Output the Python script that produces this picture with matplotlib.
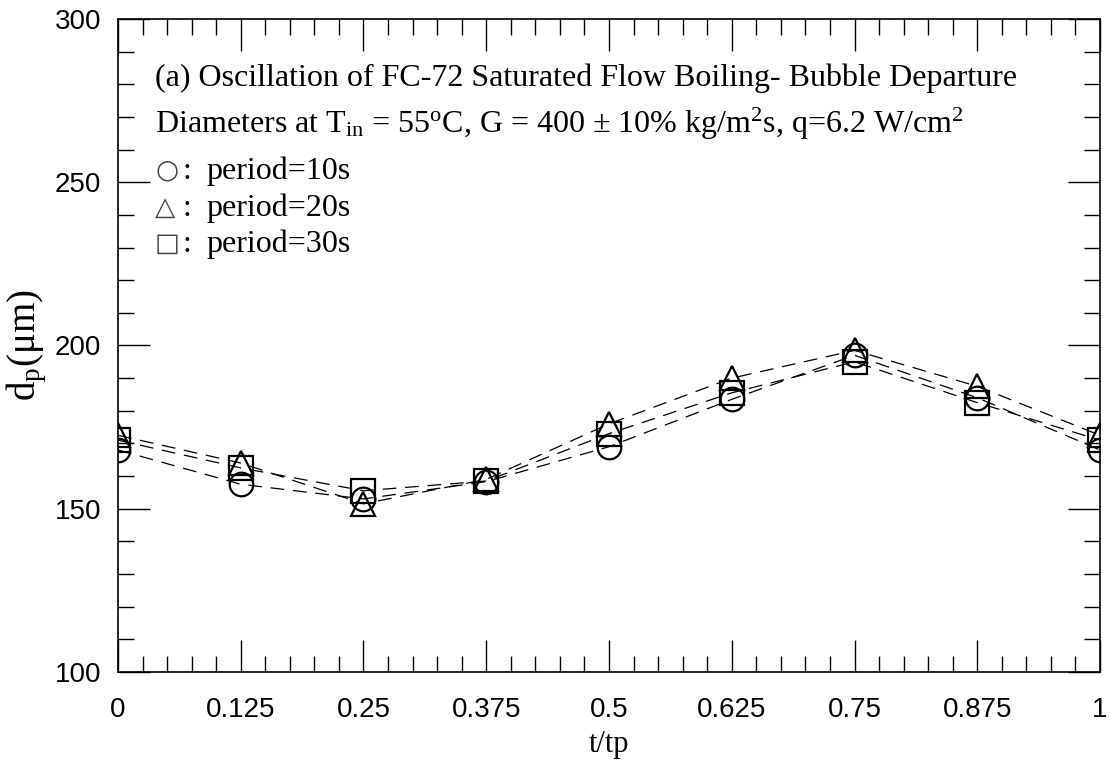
import matplotlib.pyplot as plt
from matplotlib.ticker import MultipleLocator, FixedLocator

plt.rcParams['mathtext.fontset'] = 'custom'
plt.rcParams['mathtext.rm'] = 'Liberation Serif'
plt.rcParams['mathtext.it'] = 'Liberation Serif:italic'

# phase within one oscillation period
t_ratio = [0, 0.125, 0.25, 0.375, 0.5, 0.625, 0.75, 0.875, 1.0]
tick_labels = ['0', '0.125', '0.25', '0.375', '0.5', '0.625', '0.75', '0.875', '1']

# bubble departure diameter (um) for each oscillation period
d_10s = [168, 157.5, 153, 158.3, 169, 183.5, 197, 184, 168]
d_20s = [172.5, 164, 151.5, 159, 176, 190, 198.5, 187.5, 172.5]
d_30s = [171, 162.5, 155.5, 158.5, 173, 185.5, 195, 182.5, 171]

key_symbols = ['○', '△', '□']
key_labels = ['period=10s', 'period=20s', 'period=30s']

serif = ['Liberation Serif', 'DejaVu Sans']

fig = plt.figure(figsize=(11.1, 7.61), dpi=100)
ax = fig.add_axes([0.1063, 0.117, 0.8847, 0.858])

dash = (0, (11, 7))
mk = dict(color='black', mfc='none', mec='black', mew=1.6, ms=17,
          lw=0.9, linestyle=dash)
ax.plot(t_ratio, d_10s, marker='o', **mk)
ax.plot(t_ratio, d_20s, marker='^', **mk)
ax.plot(t_ratio, d_30s, marker='s', **mk)

ax.set_xlim(0, 1)
ax.set_ylim(100, 300)
ax.xaxis.set_major_locator(FixedLocator(t_ratio))
ax.set_xticklabels(tick_labels)
ax.xaxis.set_minor_locator(MultipleLocator(0.025))
ax.yaxis.set_major_locator(MultipleLocator(50))
ax.yaxis.set_minor_locator(MultipleLocator(10))

ax.tick_params(which='both', direction='in', top=True, right=True, width=1.0)
ax.tick_params(which='major', length=23, labelsize=20,
               labelfontfamily='Liberation Sans')
ax.tick_params(which='minor', length=11.5)
ax.tick_params(axis='x', which='major', pad=18)
ax.tick_params(axis='y', which='major', pad=12)
for sp in ax.spines.values():
    sp.set_linewidth(1.2)

ax.set_xlabel('t/tp', family=serif, fontsize=22, labelpad=5)
ax.set_ylabel(r'd$_\mathrm{p}$(μm)', family=serif, fontsize=28, labelpad=4)

tx = 0.0377
fs = 23
ax.text(tx, 0.897, '(a) Oscillation of FC-72 Saturated Flow Boiling- Bubble Departure',
        transform=ax.transAxes, family=serif, fontsize=fs, va='baseline')
ax.text(tx, 0.825,
        r'Diameters at T$_\mathrm{in}$ = 55$^\mathrm{o}$C, G = 400 ± 10% kg/m$^\mathrm{2}$s, '
        r'q=6.2 W/cm$^\mathrm{2}$',
        transform=ax.transAxes, family=serif, fontsize=fs, va='baseline')

# hand-drawn key for the three periods
for sym, lab, yb in zip(key_symbols, key_labels, [0.755, 0.698, 0.643]):
    ax.text(tx, yb + 0.002, sym, transform=ax.transAxes, family='DejaVu Sans',
            fontsize=19, va='baseline', color='#444444')
    ax.text(0.0652, yb, ':', transform=ax.transAxes, family=serif,
            fontsize=fs, va='baseline')
    ax.text(0.0906, yb, lab, transform=ax.transAxes, family=serif,
            fontsize=fs, va='baseline')

plt.savefig('out.png', dpi=100)
